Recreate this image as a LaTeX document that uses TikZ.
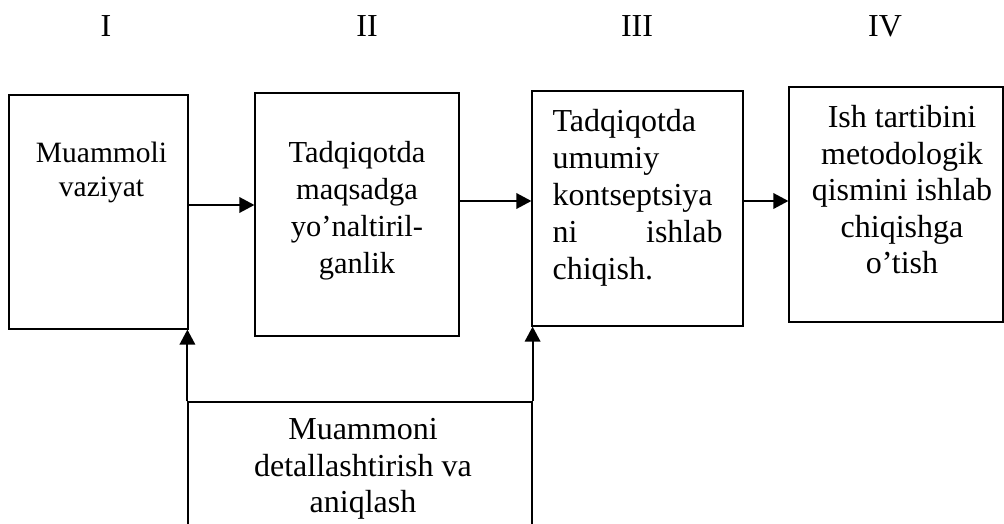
\documentclass[tikz,border=0pt]{standalone}
\usepackage{fontspec}
\setmainfont{Liberation Serif}
\usetikzlibrary{arrows.meta,positioning}
\tikzset {
  % stage box
  stage/.style = {
    draw = black,
    rectangle,
    line width = 1.2pt,
    inner sep = 0
  },
  % text inside a stage box
  stagetext/.style = {
    align = center,
    inner sep = 0,
    font = \fontsize{31}{36.5}\selectfont
  },
  % stage number
  num/.style = {
    inner sep = 0,
    anchor = base,
    font = \fontsize{32}{36}\selectfont
  },
  % arrow between boxes
  arr/.style = {
    draw = black,
    line width = 1.9pt,
    -{Triangle[length=15pt,width=15.5pt]}
  }
}

\begin{document}
\begin{tikzpicture}[x=1pt,y=-1pt]
    \clip (0,0) rectangle (1004,524);

    \node[num] (n1) at (106,37) {I};
    \node[num] (n2) at (367,37) {II};
    \node[num] (n3) at (637,37) {III};
    \node[num] (n4) at (885,37) {IV};

    \node[stage, minimum width=179pt, minimum height=234pt] (problem) at (98.5,212) {};
    \node[stage, minimum width=204pt, minimum height=243pt] (aim) at (357,214.5) {};
    \node[stage, minimum width=211pt, minimum height=235pt] (concept) at (637.5,208.5) {};
    \node[stage, minimum width=214pt, minimum height=235pt] (plan) at (896,204.5) {};
    \node[stage, minimum width=344pt, minimum height=180pt] (detail) at (360,492) {};

    \node[stagetext, font=\fontsize{29.5}{34}\selectfont, xshift=3pt] (problem text)
      [below=47pt of problem.north] {Muammoli\\vaziyat};
    \node[stagetext, font=\fontsize{30.5}{37}\selectfont] (aim text)
      [below=49pt of aim.north] {Tadqiqotda\\maqsadga\\yo’naltiril-\\ganlik};
    \node[stagetext, align=left, font=\fontsize{32}{37}\selectfont] (concept text)
      [below right=19pt and 21pt of concept.north west]
      {Tadqiqotda\\umumiy\\kontseptsiya\\\makebox[170pt][l]{ni\hfill ishlab}\\chiqish.};
    \node[stagetext, font=\fontsize{32}{36.5}\selectfont, xshift=6pt] (plan text)
      [below=19pt of plan.north] {Ish tartibini\\metodologik\\qismini ishlab\\chiqishga\\o’tish};
    \node[stagetext, font=\fontsize{32}{36.5}\selectfont, xshift=3pt] (detail text)
      [below=17pt of detail.north] {Muammoni\\detallashtirish va\\aniqlash};

    % main line
    \draw[arr] ([yshift=7pt]problem.east) -- ([yshift=7pt]problem.east -| aim.west);
    \draw[arr] ([yshift=13.5pt]aim.east) -- ([yshift=13.5pt]aim.east -| concept.west);
    \draw[arr] ([yshift=7.5pt]concept.east) -- ([yshift=7.5pt]concept.east -| plan.west);

    % feedback
    \draw[arr] (detail.north west) -- (detail.north west |- problem.south);
    \draw[arr] (detail.north east) -- (detail.north east |- concept.south);
\end{tikzpicture}
\end{document}
